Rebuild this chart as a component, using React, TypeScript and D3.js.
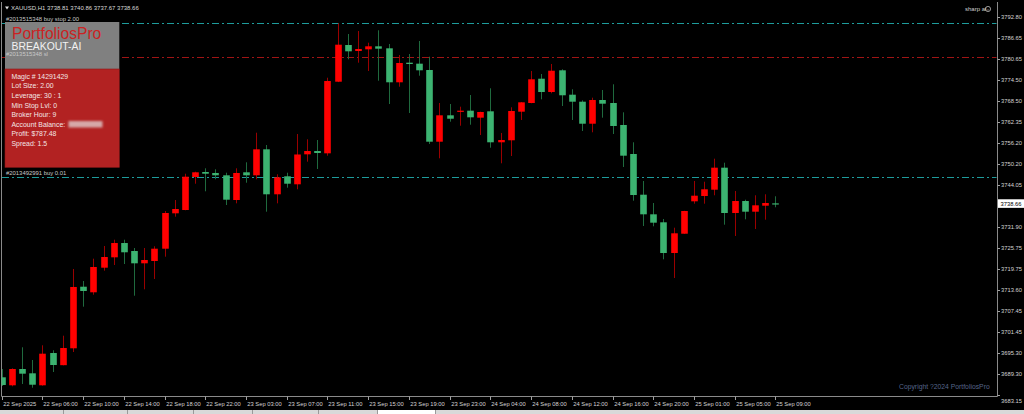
import React from "react";
import * as d3 from "d3";

const W = 1024;
const H = 414;

// OHLC data (H1 bars), 22 Sep 02:00 .. 25 Sep 09:00
const opens = [3688.33, 3686.01, 3690.74, 3689.49, 3686.01, 3695.38, 3691.85, 3696.75, 3714.62, 3713.0, 3720.14, 3723.15, 3727.3, 3724.98, 3721.41, 3722.08, 3725.65, 3735.92, 3736.88, 3746.46, 3747.91, 3747.62, 3746.95, 3739.78, 3747.82, 3746.95, 3754.49, 3741.44, 3746.66, 3744.34, 3753.04, 3754.0, 3753.33, 3774.11, 3784.76, 3783.02, 3783.51, 3784.38, 3783.8, 3773.94, 3779.63, 3779.34, 3777.51, 3756.7, 3764.36, 3765.41, 3765.7, 3763.67, 3765.52, 3756.53, 3757.11, 3765.41, 3767.93, 3774.98, 3771.12, 3777.42, 3770.34, 3768.31, 3761.92, 3768.8, 3767.93, 3761.55, 3753.13, 3741.32, 3735.63, 3733.31, 3724.4, 3730.0, 3739.4, 3740.94, 3742.77, 3749.16, 3736.01, 3739.49, 3736.39, 3738.13, 3738.81];
const highs = [3690.74, 3690.94, 3697.04, 3693.35, 3697.62, 3696.17, 3700.4, 3719.76, 3716.28, 3722.75, 3726.43, 3728.26, 3728.26, 3725.85, 3725.85, 3726.35, 3736.59, 3739.78, 3747.41, 3747.99, 3748.98, 3748.69, 3747.7, 3748.98, 3750.72, 3759.31, 3755.74, 3747.24, 3747.7, 3758.93, 3757.4, 3757.19, 3775.27, 3791.06, 3787.95, 3788.82, 3785.43, 3789.03, 3785.05, 3781.86, 3782.15, 3785.92, 3781.37, 3767.93, 3767.64, 3766.86, 3770.25, 3765.41, 3772.2, 3759.23, 3766.68, 3768.2, 3777.22, 3776.35, 3779.25, 3777.71, 3771.91, 3768.71, 3769.47, 3771.7, 3773.36, 3765.23, 3756.53, 3745.3, 3738.91, 3734.27, 3731.74, 3736.65, 3745.3, 3745.09, 3751.77, 3750.61, 3742.39, 3739.87, 3741.15, 3741.44, 3740.86];
const lows = [3685.81, 3685.72, 3686.39, 3685.31, 3685.9, 3689.87, 3691.8, 3695.67, 3708.82, 3712.3, 3719.27, 3720.92, 3721.21, 3712.01, 3713.87, 3716.86, 3723.33, 3734.94, 3736.8, 3744.51, 3742.31, 3745.79, 3738.33, 3738.82, 3744.8, 3745.79, 3736.39, 3738.82, 3743.35, 3742.89, 3750.9, 3748.78, 3752.64, 3774.0, 3780.61, 3779.63, 3777.22, 3774.4, 3767.64, 3772.66, 3765.03, 3775.85, 3756.03, 3751.88, 3762.5, 3761.34, 3761.63, 3758.64, 3754.96, 3750.43, 3752.55, 3763.0, 3767.85, 3769.0, 3770.75, 3767.06, 3763.0, 3759.81, 3759.43, 3763.67, 3758.93, 3749.36, 3739.58, 3732.24, 3732.15, 3722.57, 3717.15, 3729.95, 3738.71, 3738.71, 3741.15, 3732.62, 3729.34, 3734.18, 3731.37, 3734.07, 3737.67];
const closes = [3686.1, 3690.74, 3689.38, 3686.18, 3695.18, 3691.9, 3696.83, 3714.54, 3713.38, 3720.34, 3723.24, 3727.3, 3724.61, 3721.41, 3722.37, 3725.65, 3736.01, 3737.17, 3746.54, 3747.82, 3747.41, 3746.95, 3739.87, 3747.62, 3746.95, 3754.49, 3741.44, 3746.37, 3744.51, 3752.99, 3754.0, 3753.42, 3774.31, 3784.85, 3782.93, 3783.6, 3784.38, 3783.69, 3773.94, 3779.54, 3779.25, 3777.42, 3756.7, 3764.36, 3763.37, 3765.7, 3763.78, 3765.32, 3756.53, 3757.19, 3765.61, 3768.13, 3774.81, 3771.12, 3777.3, 3770.17, 3768.31, 3761.92, 3768.8, 3767.73, 3761.26, 3752.64, 3741.23, 3735.63, 3733.2, 3724.4, 3730.12, 3736.59, 3741.03, 3742.89, 3749.16, 3736.01, 3739.49, 3736.39, 3738.24, 3738.91, 3738.66];

// time axis labels (every 4 bars)
const timeLabelIdx = [0, 4, 8, 12, 16, 20, 24, 28, 32, 36, 40, 44, 48, 52, 56, 60, 64, 68, 72, 76];
const timeLabels = ["22 Sep 2025", "22 Sep 06:00", "22 Sep 10:00", "22 Sep 14:00", "22 Sep 18:00", "22 Sep 22:00", "23 Sep 03:00", "23 Sep 07:00", "23 Sep 11:00", "23 Sep 15:00", "23 Sep 19:00", "23 Sep 23:00", "24 Sep 04:00", "24 Sep 08:00", "24 Sep 12:00", "24 Sep 16:00", "24 Sep 20:00", "25 Sep 01:00", "25 Sep 05:00", "25 Sep 09:00"];

// price axis labels
const priceTicks = [3792.8, 3786.65, 3780.65, 3774.5, 3768.5, 3762.35, 3756.2, 3750.2, 3744.05, 3731.9, 3725.75, 3719.75, 3713.6, 3707.45, 3701.45, 3695.3, 3689.3, 3683.15];
const currentPrice = 3738.66;

// order lines
const orderPrices = [3791.06, 3781.2, 3746.4];
const orderLabels = ["#2013515348 buy stop 2.00", "#2013515348 sl", "#2013492991 buy 0.01"];
const orderColors = ["#1e9c9c", "#a01414", "#1e9c9c"];

// info panel
const panelLines = ["Magic # 14291429", "Lot Size: 2.00", "Leverage: 30 : 1", "Min Stop Lvl: 0", "Broker Hour: 9", "Account Balance: ", "Profit: $787.48", "Spread: 1.5"];

const FONT = "'Liberation Sans', Arial, sans-serif";

export default function App() {
  const n = closes.length;
  const x = d3.scaleLinear().domain([0, n - 1]).range([1.7, 775.4]);
  const y = d3.scaleLinear().domain([3682.76, 3796.95]).range([396.5, 3]);
  const bodyW = 6.6;
  const plotRight = 997.5;
  const plotBottom = 396.5;

  const candles = d3.range(n).map((i) => {
    const o = opens[i], c = closes[i], h = highs[i], l = lows[i];
    const up = c >= o;
    const top = y(Math.max(o, c));
    const bot = y(Math.min(o, c));
    return { i, up, top, bot, hy: y(h), ly: y(l), cx: Math.round(x(i)) + 0.5 };
  });

  return (
    <svg width={W} height={H} style={{ position: "fixed", left: 0, top: 0, background: "#000" }} fontFamily={FONT}>
      <defs>
        <filter id="blur" x="-20%" y="-50%" width="140%" height="200%">
          <feGaussianBlur stdDeviation="1.2" />
        </filter>
        <clipPath id="plot">
          <rect x={1.5} y={0} width={plotRight - 1.5} height={plotBottom} />
        </clipPath>
      </defs>
      <rect x={0} y={0} width={W} height={H} fill="#000" />

      {/* frame */}
      <line x1={1.5} y1={2} x2={1.5} y2={plotBottom} stroke="#8a8a8a" strokeWidth={1} />
      <line x1={1.5} y1={plotBottom} x2={plotRight} y2={plotBottom} stroke="#8a8a8a" strokeWidth={1} />
      <line x1={plotRight} y1={2} x2={plotRight} y2={plotBottom} stroke="#8a8a8a" strokeWidth={1} />

      {/* order lines */}
      {orderPrices.map((p, k) => (
        <line key={"ol" + k} x1={2} x2={plotRight - 1} y1={Math.round(y(p)) + 0.5} y2={Math.round(y(p)) + 0.5}
          stroke={orderColors[k]} strokeWidth={1} strokeDasharray="7 3 2 3" />
      ))}

      {/* candles */}
      <g clipPath="url(#plot)">
        {candles.map((d) => (
          <g key={d.i}>
            <line x1={d.cx} x2={d.cx} y1={d.hy} y2={d.ly} stroke={d.up ? "#9a0000" : "#1f6a3e"} strokeWidth={1} />
            <rect x={d.cx - bodyW / 2} y={d.top} width={bodyW} height={Math.max(1.2, d.bot - d.top)}
              fill={d.up ? "#ff0000" : "#3cb371"} />
          </g>
        ))}
      </g>

      {/* info panel */}
      <rect x={5} y={22} width={114.3} height={47} fill="#808080" />
      <rect x={5} y={69} width={114.3} height={98.3} fill="#b22222" stroke="#8e1a1a" strokeWidth={0.6} />
      <text x={12} y={39} fontSize={15.6} fill="#cc2222">PortfoliosPro</text>
      <text x={11.5} y={50.3} fontSize={10.4} fill="#f2f2f2">BREAKOUT-AI</text>
      {panelLines.map((t, k) => (
        <text key={"pl" + k} x={11.5} y={78.8 + k * 9.57} fontSize={6.9} fill="#f3e6e6">{t}</text>
      ))}
      <rect x={68.5} y={121} width={34} height={6.5} fill="#d6a8a8" filter="url(#blur)" />

      {/* order labels */}
      {orderPrices.map((p, k) => (
        <text key={"olt" + k} x={6} y={Math.round(y(p)) - (k === 1 ? 1.2 : 2)} fontSize={5.9} fill="#c8c8c8">{orderLabels[k]}</text>
      ))}

      {/* title */}
      <path d="M5,6.5 L9,6.5 L7,9.5 Z" fill="#e0e0e0" />
      <text x={11} y={10} fontSize={6} fill="#d8d8d8">XAUUSD,H1  3738.81 3740.86 3737.67 3738.66</text>

      {/* sharp ai */}
      <text x={965} y={11} fontSize={6} fill="#d0d0d0">sharp ai</text>
      <circle cx={988} cy={9} r={2.6} fill="none" stroke="#d0d0d0" strokeWidth={0.7} />
      <path d="M986.8,9.6 Q988,11 989.2,9.6" fill="none" stroke="#d0d0d0" strokeWidth={0.5} />

      {/* price axis */}
      {priceTicks.map((p, k) => {
        const py = y(p);
        const ty = py > 390 ? 401.3 : py;
        return (
          <g key={"pt" + k}>
            <line x1={plotRight} x2={plotRight + 2.5} y1={Math.round(py) + 0.5} y2={Math.round(py) + 0.5} stroke="#a0a0a0" />
            <text x={1001} y={ty + 2} fontSize={5.8} fill="#d4d4d4">{d3.format(".2f")(p)}</text>
          </g>
        );
      })}
      <rect x={998} y={y(currentPrice) - 4.6} width={26} height={8.6} fill="#ffffff" />
      <text x={1000.5} y={y(currentPrice) + 2} fontSize={5.8} fill="#000">{d3.format(".2f")(currentPrice)}</text>

      {/* time axis */}
      {timeLabelIdx.map((idx, k) => {
        const tx = Math.round(x(idx)) + 0.5;
        return (
          <g key={"tl" + k}>
            <line x1={tx} x2={tx} y1={plotBottom} y2={plotBottom + 3.5} stroke="#a0a0a0" />
            <text x={tx + 0.8} y={405.5} fontSize={5.8} fill="#d4d4d4">{timeLabels[k]}</text>
          </g>
        );
      })}

      {/* copyright */}
      <text x={899} y={389} fontSize={6.8} fill="#56658a">Copyright ?2024 PortfoliosPro</text>

      {/* bottom tab strip */}
      <rect x={0} y={410} width={W} height={4} fill="#d9d9d9" />
      <rect x={377} y={410} width={58} height={4} fill="#ffffff" />
      {[63, 127, 193, 252, 318, 377, 435].map((bx, k) => (
        <line key={"tb" + k} x1={bx + 0.5} x2={bx + 0.5} y1={410} y2={414} stroke="#9a9a9a" />
      ))}
    </svg>
  );
}
